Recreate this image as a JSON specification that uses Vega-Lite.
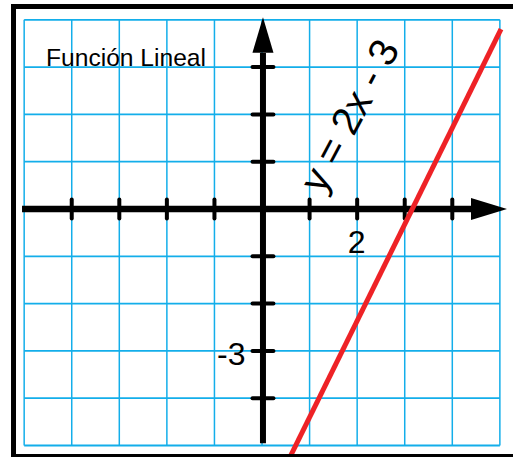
{
  "$schema": "https://vega.github.io/schema/vega-lite/v6.json",
  "usermeta": {"embedOptions": {"actions": false}},
  "width": 513,
  "height": 457,
  "autosize": {"type": "none"},
  "padding": 0,
  "background": "white",
  "config": {"view": {"stroke": null}},
  "datasets": {
    "gridV": [{"gx": -5}, {"gx": -4}, {"gx": -3}, {"gx": -2}, {"gx": -1}, {"gx": 0}, {"gx": 1}, {"gx": 2}, {"gx": 3}, {"gx": 4}, {"gx": 5}],
    "gridH": [{"gy": -5}, {"gy": -4}, {"gy": -3}, {"gy": -2}, {"gy": -1}, {"gy": 0}, {"gy": 1}, {"gy": 2}, {"gy": 3}, {"gy": 4}],
    "xticks": [{"t": -4}, {"t": -3}, {"t": -2}, {"t": -1}, {"t": 1}, {"t": 2}, {"t": 3}, {"t": 4}],
    "yticks": [{"t": -4}, {"t": -3}, {"t": -2}, {"t": -1}, {"t": 1}, {"t": 2}, {"t": 3}],
    "fline": [{"x": 0.59, "y": -5.24}, {"x": 5.024, "y": 3.805}],
    "frameH": [{"fy": 4.281}, {"fy": -5.235}]
  },
  "layer": [
    {
      "data": {"name": "gridV"},
      "mark": {"type": "rule", "color": "#13AEEA", "strokeWidth": 1.5},
      "encoding": {
        "x": {"field": "gx", "type": "quantitative", "scale": {"domain": [-5.508, 5.276], "nice": false, "zero": false}, "axis": null},
        "y": {"datum": -5, "type": "quantitative", "scale": {"domain": [-5.243, 4.419], "nice": false, "zero": false}, "axis": null},
        "y2": {"datum": 4}
      }
    },
    {
      "data": {"name": "gridH"},
      "mark": {"type": "rule", "color": "#13AEEA", "strokeWidth": 1.8},
      "encoding": {
        "y": {"field": "gy", "type": "quantitative"},
        "x": {"datum": -5, "type": "quantitative"},
        "x2": {"datum": 5}
      }
    },
    {
      "data": {"values": [{"a": 0}]},
      "mark": {"type": "rule", "color": "black", "strokeWidth": 6.5},
      "encoding": {
        "y": {"datum": 0, "type": "quantitative"},
        "x": {"datum": -5.045, "type": "quantitative"},
        "x2": {"datum": 4.5}
      }
    },
    {
      "data": {"values": [{"a": 0}]},
      "mark": {"type": "rule", "color": "black", "strokeWidth": 6},
      "encoding": {
        "x": {"datum": 0.02, "type": "quantitative"},
        "y": {"datum": -4.95, "type": "quantitative"},
        "y2": {"datum": 3.3}
      }
    },
    {
      "data": {"name": "xticks"},
      "mark": {"type": "rule", "color": "black", "strokeWidth": 4, "strokeCap": "round"},
      "encoding": {
        "x": {"field": "t", "type": "quantitative"},
        "y": {"datum": -0.2, "type": "quantitative"},
        "y2": {"datum": 0.2}
      }
    },
    {
      "data": {"name": "yticks"},
      "mark": {"type": "rule", "color": "black", "strokeWidth": 4, "strokeCap": "round"},
      "encoding": {
        "y": {"field": "t", "type": "quantitative"},
        "x": {"datum": -0.2, "type": "quantitative"},
        "x2": {"datum": 0.24}
      }
    },
    {
      "data": {"values": [{"ax": 4.772, "ay": 0}]},
      "mark": {"type": "point", "shape": "M -1 -0.611 L 1 0 L -1 0.611 Z", "filled": true, "color": "black", "opacity": 1, "size": 1296, "strokeWidth": 0},
      "encoding": {
        "x": {"field": "ax", "type": "quantitative"},
        "y": {"field": "ay", "type": "quantitative"}
      }
    },
    {
      "data": {"values": [{"ax": 0.02, "ay": 3.679}]},
      "mark": {"type": "point", "shape": "M -0.593 1 L 0 -1 L 0.593 1 Z", "filled": true, "color": "black", "opacity": 1, "size": 1260, "strokeWidth": 0},
      "encoding": {
        "x": {"field": "ax", "type": "quantitative"},
        "y": {"field": "ay", "type": "quantitative"}
      }
    },
    {
      "data": {"name": "fline"},
      "mark": {"type": "line", "color": "#EE2226", "strokeWidth": 5},
      "encoding": {
        "x": {"field": "x", "type": "quantitative"},
        "y": {"field": "y", "type": "quantitative"}
      }
    },
    {
      "data": {"values": [{"lx": -4.541, "ly": 3.023, "txt": "Función Lineal"}]},
      "mark": {"type": "text", "align": "left", "baseline": "alphabetic", "font": "Liberation Sans", "fontSize": 24.6, "color": "black"},
      "encoding": {
        "x": {"field": "lx", "type": "quantitative"},
        "y": {"field": "ly", "type": "quantitative"},
        "text": {"field": "txt"}
      }
    },
    {
      "data": {"values": [{"lx": 1.987, "ly": -0.93, "txt": "2"}]},
      "mark": {"type": "text", "align": "center", "baseline": "alphabetic", "font": "Liberation Sans", "fontSize": 32, "color": "black"},
      "encoding": {
        "x": {"field": "lx", "type": "quantitative"},
        "y": {"field": "ly", "type": "quantitative"},
        "text": {"field": "txt"}
      }
    },
    {
      "data": {"values": [{"lx": -0.347, "ly": -3.3, "txt": "-3"}]},
      "mark": {"type": "text", "align": "right", "baseline": "alphabetic", "font": "Liberation Sans", "fontSize": 32, "color": "black"},
      "encoding": {
        "x": {"field": "lx", "type": "quantitative"},
        "y": {"field": "ly", "type": "quantitative"},
        "text": {"field": "txt"}
      }
    },
    {
      "data": {"values": [{"lx": 1.87, "ly": 1.96, "txt": "y = 2x - 3"}]},
      "mark": {"type": "text", "align": "center", "baseline": "middle", "font": "Liberation Sans", "fontSize": 40, "angle": 298, "color": "black"},
      "encoding": {
        "x": {"field": "lx", "type": "quantitative"},
        "y": {"field": "ly", "type": "quantitative"},
        "text": {"field": "txt"}
      }
    },
    {
      "data": {"name": "frameH"},
      "mark": {"type": "rule", "color": "black", "strokeWidth": 5, "strokeCap": "square"},
      "encoding": {
        "y": {"field": "fy", "type": "quantitative"},
        "x": {"datum": -5.224, "type": "quantitative"},
        "x2": {"datum": 5.6}
      }
    },
    {
      "data": {"values": [{"a": 0}]},
      "mark": {"type": "rule", "color": "black", "strokeWidth": 5, "strokeCap": "square"},
      "encoding": {
        "x": {"datum": -5.224, "type": "quantitative"},
        "y": {"datum": -5.235, "type": "quantitative"},
        "y2": {"datum": 4.281}
      }
    }
  ]
}
